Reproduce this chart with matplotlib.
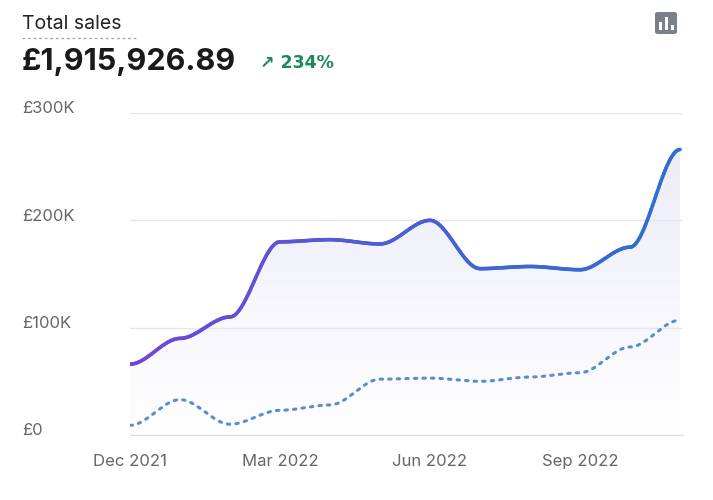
import numpy as np
import matplotlib.pyplot as plt
from matplotlib.collections import LineCollection
from matplotlib.colors import LinearSegmentedColormap
from matplotlib.patches import FancyBboxPatch, Rectangle
from matplotlib.transforms import blended_transform_factory

plt.rcParams["font.family"] = ["Inter", "DejaVu Sans"]

months = ["Dec 2021", "Jan 2022", "Feb 2022", "Mar 2022", "Apr 2022", "May 2022",
          "Jun 2022", "Jul 2022", "Aug 2022", "Sep 2022", "Oct 2022", "Nov 2022"]
sales = [66, 90, 110, 180, 182, 178, 200, 155, 157, 154, 175, 266]      # £K
prev_sales = [9, 33, 10, 23, 28, 52, 53, 50, 54, 58, 82, 107]           # £K
tick_idx = [0, 3, 6, 9]
ytick_vals = [0, 100, 200, 300]
ytick_labels = ["£0", "£100K", "£200K", "£300K"]


def smooth(vals, n=40):
    # smoothstep between points -> flat plateaus with soft transitions
    xs, ys = [], []
    for i in range(len(vals) - 1):
        t = np.linspace(0, 1, n, endpoint=False)
        s = t * t * (3 - 2 * t)
        xs.append(i + t)
        ys.append(vals[i] + (vals[i + 1] - vals[i]) * s)
    xs.append([len(vals) - 1])
    ys.append([vals[-1]])
    return np.concatenate(xs), np.concatenate(ys)


fig = plt.figure(figsize=(7.13, 5.0), dpi=100)
ax = fig.add_axes([130 / 713, 65 / 500, 553 / 713, 322 / 500])
x = np.arange(len(months))

xs, ys = smooth(sales)
# fill fading towards the bottom
grad = np.linspace(0, 1, 256).reshape(-1, 1)
fill_cmap = LinearSegmentedColormap.from_list("f", ["#ffffff", "#ececf9"])
im = ax.imshow(grad, extent=[0, len(months) - 1, 0, max(sales)], origin="lower",
               aspect="auto", cmap=fill_cmap, zorder=0)
poly = ax.fill_between(xs, 0, ys, color="none", lw=0)
im.set_clip_path(poly.get_paths()[0], transform=ax.transData)

cmap = LinearSegmentedColormap.from_list("g", ["#7047d8", "#4a5fd6", "#2e6fcf"])
pts = np.column_stack([xs, ys]).reshape(-1, 1, 2)
lc = LineCollection(np.concatenate([pts[:-1], pts[1:]], axis=1), cmap=cmap, lw=2.6,
                    capstyle="round", zorder=3)
lc.set_array(xs[:-1])
ax.add_collection(lc)

px, py = smooth(prev_sales)
ax.plot(px, py, color="#5a8ccf", lw=2.2, linestyle=(0, (0.8, 2.0)),
        dash_capstyle="round", zorder=3)

ax.set_xlim(0, len(months) - 1 + 0.06)
ax.set_ylim(0, 300)
ax.set_yticks(ytick_vals)
ax.set_yticklabels([])
tr = blended_transform_factory(fig.transFigure, ax.transData)
for v, lab in zip(ytick_vals, ytick_labels):
    ax.text(22 / 713, v + 4, lab, transform=tr, ha="left", va="center",
            fontsize=12, color="#666666", clip_on=False)
ax.set_xticks(x[tick_idx])
ax.set_xticklabels([months[i] for i in tick_idx])
ax.grid(axis="y", color="#e6e6e6", lw=1)
ax.set_axisbelow(True)
for s in ["top", "right", "left"]:
    ax.spines[s].set_visible(False)
ax.spines["bottom"].set_color("#dddddd")
ax.tick_params(length=0, labelsize=12, labelcolor="#666666")
ax.tick_params(axis="x", pad=14)

fig.text(22 / 713, 1 - 24 / 500, "Total sales", fontsize=14, color="#222222", va="center")
fig.add_artist(plt.Line2D([22 / 713, 138 / 713], [1 - 38 / 500] * 2, color="#aaaaaa",
                          lw=1, linestyle=(0, (2, 2))))
fig.text(22 / 713, 1 - 62 / 500, "£1,915,926.89", fontsize=22, fontweight="bold",
         color="#1a1a1a", va="center")
fig.text(260 / 713, 1 - 63 / 500, "↗ 234%", fontsize=12.5, fontweight="bold",
         color="#1a8a5a", va="center", family=["DejaVu Sans"])

# chart icon
fig.add_artist(FancyBboxPatch((655 / 713, 1 - 34 / 500), 22 / 713, 22 / 500,
                              boxstyle="round,pad=0,rounding_size=0.004",
                              fc="#7a8089", ec="none", transform=fig.transFigure))
for bx, bh in [(659, 8), (665, 13), (671, 5)]:
    fig.add_artist(Rectangle((bx / 713, 1 - 30 / 500), 3 / 713, bh / 500,
                             fc="white", ec="none", transform=fig.transFigure))

fig.savefig("out.png", dpi=100)
